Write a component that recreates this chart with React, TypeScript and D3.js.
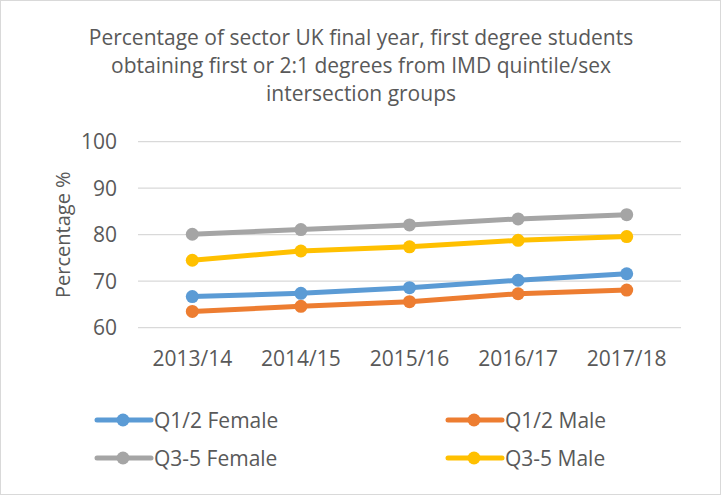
import React from 'react';
import * as d3 from 'd3';

const years = ['2013/14', '2014/15', '2015/16', '2016/17', '2017/18'];
const q12Female = [66.7, 67.4, 68.6, 70.2, 71.6];
const q12Male = [63.5, 64.6, 65.6, 67.3, 68.1];
const q35Female = [80.1, 81.1, 82.1, 83.4, 84.3];
const q35Male = [74.5, 76.5, 77.4, 78.8, 79.6];
const yTicks = [60, 70, 80, 90, 100];
const titleLines = [
  'Percentage of sector UK final year, first degree students',
  'obtaining first or 2:1 degrees from IMD quintile/sex',
  'intersection groups',
];

const series = [
  { name: 'Q1/2 Female', values: q12Female, color: '#5B9BD5' },
  { name: 'Q1/2 Male', values: q12Male, color: '#ED7D31' },
  { name: 'Q3-5 Female', values: q35Female, color: '#A5A5A5' },
  { name: 'Q3-5 Male', values: q35Male, color: '#FFC000' },
];

const W = 721;
const H = 495;
const FONT = '"Open Sans", sans-serif';
const TEXT = '#595959';
const FS = 21;

export default function App() {
  const x = d3.scalePoint<string>().domain(years).range([138, 681]).padding(0.5);
  const y = d3.scaleLinear().domain([60, 100]).range([327.7, 141.7]);

  const line = d3.line<number>()
    .x((_, i) => x(years[i]) as number)
    .y(d => y(d));

  // legend: two columns, two rows
  const legendPos = [
    { lx: 97, ly: 420 },
    { lx: 448, ly: 420 },
    { lx: 97, ly: 458 },
    { lx: 448, ly: 458 },
  ];

  return (
    <div style={{ position: 'fixed', left: 0, top: 0 }}>
      <svg width={W} height={H} style={{ display: 'block', fontFamily: FONT }}>
        <rect x={0.5} y={0.5} width={W - 1} height={H - 1} fill="#fff" stroke="#D9D9D9" />

        {titleLines.map((t, i) => (
          <text key={i} x={361} y={45 + i * 28} textAnchor="middle" fontSize={FS} fill={TEXT}>
            {t}
          </text>
        ))}

        {yTicks.map(t => (
          <g key={t}>
            <line x1={138} x2={681} y1={y(t)} y2={y(t)} stroke="#D9D9D9" strokeWidth={1.3} />
            <text x={117} y={y(t)} dy="0.36em" textAnchor="end" fontSize={FS} fill={TEXT}>{t}</text>
          </g>
        ))}

        <text
          transform={`translate(70, ${y(80)}) rotate(-90)`}
          textAnchor="middle"
          fontSize={20}
          fill={TEXT}
        >
          Percentage %
        </text>

        {years.map(yr => (
          <text key={yr} x={x(yr)} y={366} textAnchor="middle" fontSize={FS} fill={TEXT}>{yr}</text>
        ))}

        {series.map(s => (
          <g key={s.name}>
            <path d={line(s.values) || ''} fill="none" stroke={s.color} strokeWidth={5} strokeLinejoin="round" strokeLinecap="round" />
            {s.values.map((v, i) => (
              <circle key={i} cx={x(years[i])} cy={y(v)} r={6.5} fill={s.color} />
            ))}
          </g>
        ))}

        {series.map((s, i) => {
          const p = legendPos[i];
          return (
            <g key={s.name}>
              <line x1={p.lx} x2={p.lx + 54} y1={p.ly} y2={p.ly} stroke={s.color} strokeWidth={5} strokeLinecap="round" />
              <circle cx={p.lx + 26} cy={p.ly} r={6.5} fill={s.color} />
              <text x={p.lx + 57} y={p.ly} dy="0.36em" fontSize={FS} fill={TEXT}>{s.name}</text>
            </g>
          );
        })}
      </svg>
    </div>
  );
}
